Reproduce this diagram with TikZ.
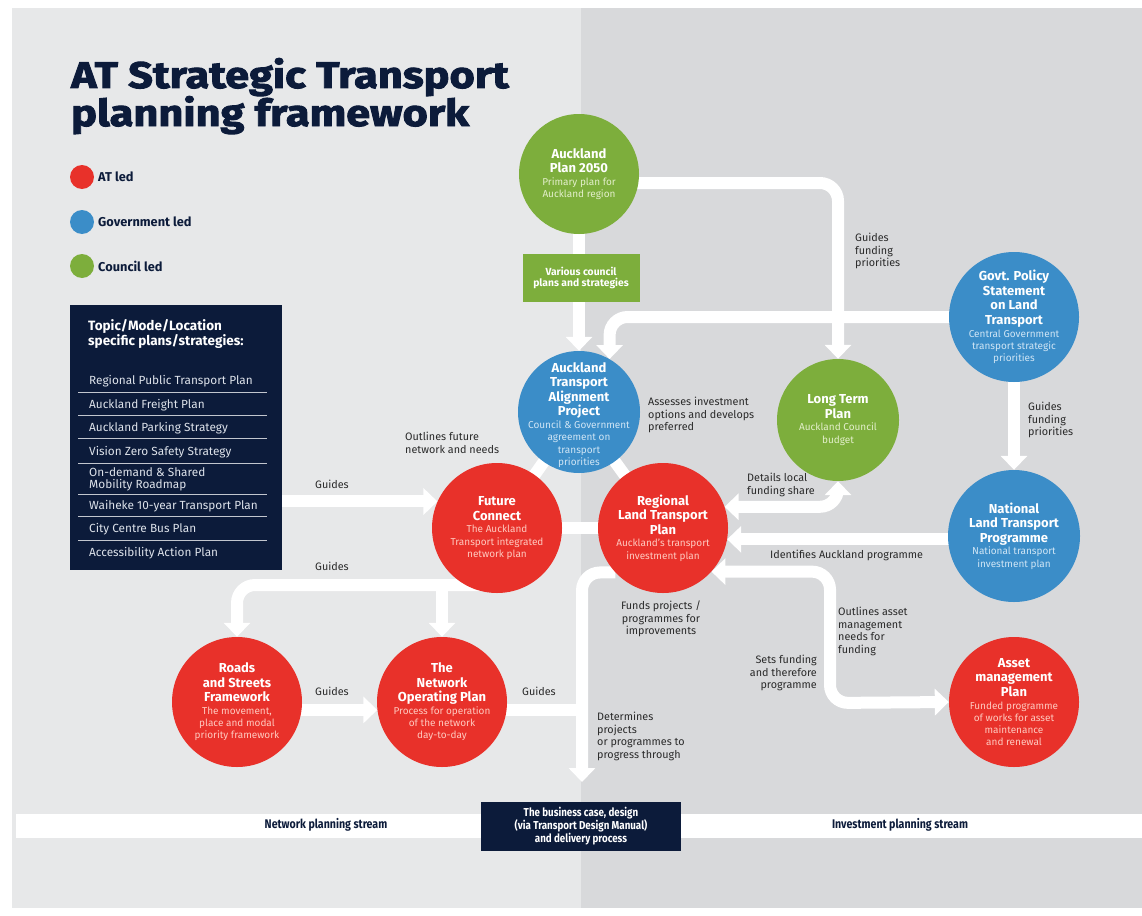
\documentclass[tikz,border=0pt]{standalone}
\usepackage{fontspec}
\setmainfont{Fira Sans}
\newfontfamily\titlefont[FakeBold=2.5,FakeStretch=1.17]{Fira Sans}
\newfontfamily\condfont[FakeStretch=0.85]{Fira Sans}
\usetikzlibrary{arrows.meta,calc}
\definecolor{atred}{HTML}{E8312A}
\definecolor{atblue}{HTML}{3B8DC8}
\definecolor{atgreen}{HTML}{7DAE3C}
\definecolor{navy}{HTML}{0C1B3A}
\definecolor{bgL}{HTML}{E7E8E9}
\definecolor{bgR}{HTML}{D8D9DB}
\definecolor{subred}{HTML}{FFC9BF}
\definecolor{subblue}{HTML}{CFE5F5}
\definecolor{subgreen}{HTML}{E3EFCB}
\definecolor{lbltext}{HTML}{2A2A2A}
\definecolor{listtext}{HTML}{DDE2EA}
\pgfdeclarelayer{back}
\pgfdeclarelayer{links}
\pgfsetlayers{back,links,main}
\newcommand\ctext[3]{\parbox{126pt}{\centering\bfseries\fontsize{13}{14.5}\selectfont #1\par\vspace{0.5pt}\mdseries\fontsize{10}{12.2}\selectfont\color{#3}#2\par}}
\begin{document}
\begin{tikzpicture}[x=1pt,y=-1pt,
  circ/.style={circle, fill=#1, inner sep=0pt, minimum size=130pt},
  ctxt/.style={inner sep=0pt, text=white},
  dot/.style={circle, fill=#1, inner sep=0pt, minimum size=24pt},
  legtxt/.style={anchor=west, inner sep=0pt, text=navy, font=\bfseries\fontsize{12.8}{14}\selectfont},
  item/.style={anchor=west, inner sep=0pt, align=left, text=listtext, font=\fontsize{11.8}{11.5}\selectfont},
  sepline/.style={draw=white!75!navy, line width=0.8pt},
  lbl/.style={anchor=north west, inner sep=0pt, align=left, text=lbltext, font=\fontsize{10.8}{12.5}\selectfont},
  flow/.style={draw=white, line width=12pt, rounded corners=18pt},
  tipA/.style={-{Triangle[width=26pt,length=14pt]}},
  tipB/.style={{Triangle[width=26pt,length=14pt]}-{Triangle[width=26pt,length=14pt]}},
  stream/.style={inner sep=0pt, text=navy, font=\condfont\bfseries\fontsize{12.5}{14}\selectfont},
  ttl/.style={anchor=base west, inner sep=0pt, text=navy, font=\titlefont\bfseries\fontsize{37}{37}\selectfont}
]
\useasboundingbox (0,0) rectangle (1142,915);
\begin{pgfonlayer}{back}
\fill[white] (0,0) rectangle (1142,915);
\fill[bgL] (12,8) rectangle (581,908);
\fill[bgR] (581,8) rectangle (1142,908);
\end{pgfonlayer}

% title
\node[ttl] (t1) at (71,88) {AT Strategic Transport};
\node[ttl] (t2) at (71,126) {planning framework};

% legend
\node[dot=atred] (lg1) at (82,177) {};
\node[dot=atblue] (lg2) at (82,222) {};
\node[dot=atgreen] (lg3) at (82,266) {};
\node[legtxt] (lt1) at (98,177) {AT led};
\node[legtxt] (lt2) at (98,222) {Government led};
\node[legtxt] (lt3) at (98,266) {Council led};

% list box
\node[fill=navy, minimum width=212pt, minimum height=265pt, inner sep=0pt, anchor=north west] (list) at (70,305) {};
\node[anchor=north west, inner sep=0pt, align=left, text=white, font=\bfseries\fontsize{13.5}{13.5}\selectfont] (lh) at (88,319) {Topic/Mode/Location\\specific plans/strategies:};
\node[item] (i1) at (89,381) {Regional Public Transport Plan};
\node[item] (i2) at (89,405) {Auckland Freight Plan};
\node[item] (i3) at (89,428) {Auckland Parking Strategy};
\node[item] (i4) at (89,452) {Vision Zero Safety Strategy};
\node[item] (i5) at (89,479.5) {On-demand \& Shared\\Mobility Roadmap};
\node[item] (i6) at (89,506) {Waiheke 10-year Transport Plan};
\node[item] (i7) at (89,529) {City Centre Bus Plan};
\node[item] (i8) at (89,553) {Accessibility Action Plan};
\foreach \yy in {392,415,438,463,494,516,540} \draw[sepline] (78,\yy) -- (267,\yy);

% circles
\node[circ=atgreen, minimum size=120pt] (ap) at (579,174) {};
\node[ctxt] (apt) at (ap.center) {\ctext{Auckland\\Plan 2050}{Primary plan for\\Auckland region}{subgreen}};
\node[fill=atgreen, minimum width=117pt, minimum height=48pt, inner sep=0pt, text=white, align=center, font=\bfseries\fontsize{10.3}{11}\selectfont] (vc) at (581,278) {Various council\\plans and strategies};
\node[circ=atblue, minimum size=122pt] (atap) at (579,412) {};
\node[ctxt] (atapt) at ([yshift=-3pt]atap.center) {\ctext{Auckland\\Transport\\Alignment\\Project}{Council \& Government\\agreement on\\transport\\priorities}{subblue}};
\node[circ=atgreen, minimum size=122pt] (ltp) at (838,420) {};
\node[ctxt] (ltpt) at (ltp.center) {\ctext{Long Term\\Plan}{Auckland Council\\budget}{subgreen}};
\node[circ=atblue] (gps) at (1014,317) {};
\node[ctxt] (gpst) at (gps.center) {\ctext{Govt. Policy\\Statement\\on Land\\Transport}{Central Government\\transport strategic\\priorities}{subblue}};
\node[circ=atblue, minimum size=132pt] (nltp) at (1014,536) {};
\node[ctxt] (nltpt) at (nltp.center) {\ctext{National\\Land Transport\\Programme}{National transport\\investment plan}{subblue}};
\node[circ=atred] (fc) at (497,528) {};
\node[ctxt] (fct) at (fc.center) {\ctext{Future\\Connect}{The Auckland\\Transport integrated\\network plan}{subred}};
\node[circ=atred] (rltp) at (663,528) {};
\node[ctxt] (rltpt) at (rltp.center) {\ctext{Regional\\Land Transport\\Plan}{Auckland's transport\\investment plan}{subred}};
\node[circ=atred] (rsf) at (237,702) {};
\node[ctxt] (rsft) at (rsf.center) {\ctext{Roads\\and Streets\\Framework}{The movement,\\place and modal\\priority framework}{subred}};
\node[circ=atred] (nop) at (442,702) {};
\node[ctxt] (nopt) at (nop.center) {\ctext{The\\Network\\Operating Plan}{Process for operation\\of the network\\day-to-day}{subred}};
\node[circ=atred] (amp) at (1014,702) {};
\node[ctxt] (ampt) at (amp.center) {\ctext{Asset\\management\\Plan}{Funded programme\\of works for asset\\maintenance\\and renewal}{subred}};

% bottom
\node[fill=white, minimum width=1126pt, minimum height=24pt, inner sep=0pt, anchor=west] (strip) at (16,825.5) {};
\node[stream] (ns) at (326,825) {Network planning stream};
\node[stream] (is) at (900,825) {Investment planning stream};
\node[fill=navy, minimum width=200pt, minimum height=49pt, inner sep=0pt, text=white, align=center, font=\condfont\bfseries\fontsize{11.5}{11.7}\selectfont] (bc) at (581,826) {The business case, design\\(via Transport Design Manual)\\and delivery process};

% labels
\node[lbl] (l1) at (855,233) {Guides\\funding\\priorities};
\node[lbl] (l2) at (1028,402) {Guides\\funding\\priorities};
\node[lbl] (l3) at (648,397) {Assesses investment\\options and develops\\preferred};
\node[lbl] (l4) at (405,432) {Outlines future\\network and needs};
\node[lbl] (l5) at (747,473) {Details local\\funding share};
\node[lbl] (l6) at (770,550) {Identifies Auckland programme};
\node[lbl, anchor=north, align=center] (l7) at (661,601) {Funds projects /\\programmes for\\improvements};
\node[lbl, anchor=north east, align=right] (l8) at (817,655) {Sets funding\\and therefore\\programme};
\node[lbl] (l9) at (838,607) {Outlines asset\\management\\needs for\\funding};
\node[lbl] (l10) at (597,712) {Determines\\projects\\or programmes to\\progress through};
\node[lbl] (g1) at (315,480) {Guides};
\node[lbl] (g2) at (315,562) {Guides};
\node[lbl] (g3) at (315,687) {Guides};
\node[lbl] (g4) at (522,687) {Guides};

% connectors
\coordinate (amc) at (830,703);
\coordinate (down) at (582,782);
\coordinate (fcl) at (237,585);
\begin{pgfonlayer}{links}
\draw[flow] (atap.center) -- (fc.center);
\draw[flow] (atap.center) -- (rltp.center);
\draw[flow] (fc.center) -- (rltp.center);
\draw[flow,tipA] (ap.center) -- (atap.north);
\draw[flow,tipA] ($(ap.center)+(0,9)$) -| (ltp.north);
\draw[flow,tipA] (gps.center) -| (atap.60);
\draw[flow,tipA] (gps.center) -- (nltp.north);
\draw[flow,tipA] (nltp.center |- rltp.-10) -- (rltp.-10);
\draw[flow,tipB] (rltp.19) -| (ltp.south);
\draw[flow,tipB] (rltp.-42) -| (amc) -- (amp.west);
\draw[flow,tipA] (rltp.223) -| (down);
\draw[flow] (nop.center |- nop.-7) -- (down |- nop.-7);
\draw[flow,tipA] (rsf.center |- nop.187) -- (nop.187);
\draw[flow,tipA] (fc.center) |- (fcl) -- (rsf.north);
\draw[flow,tipA] (nop.north |- fcl) -- (nop.north);
\draw[flow,tipA] (list.east |- fc.156) -- (fc.156);
\end{pgfonlayer}
\end{tikzpicture}
\end{document}
